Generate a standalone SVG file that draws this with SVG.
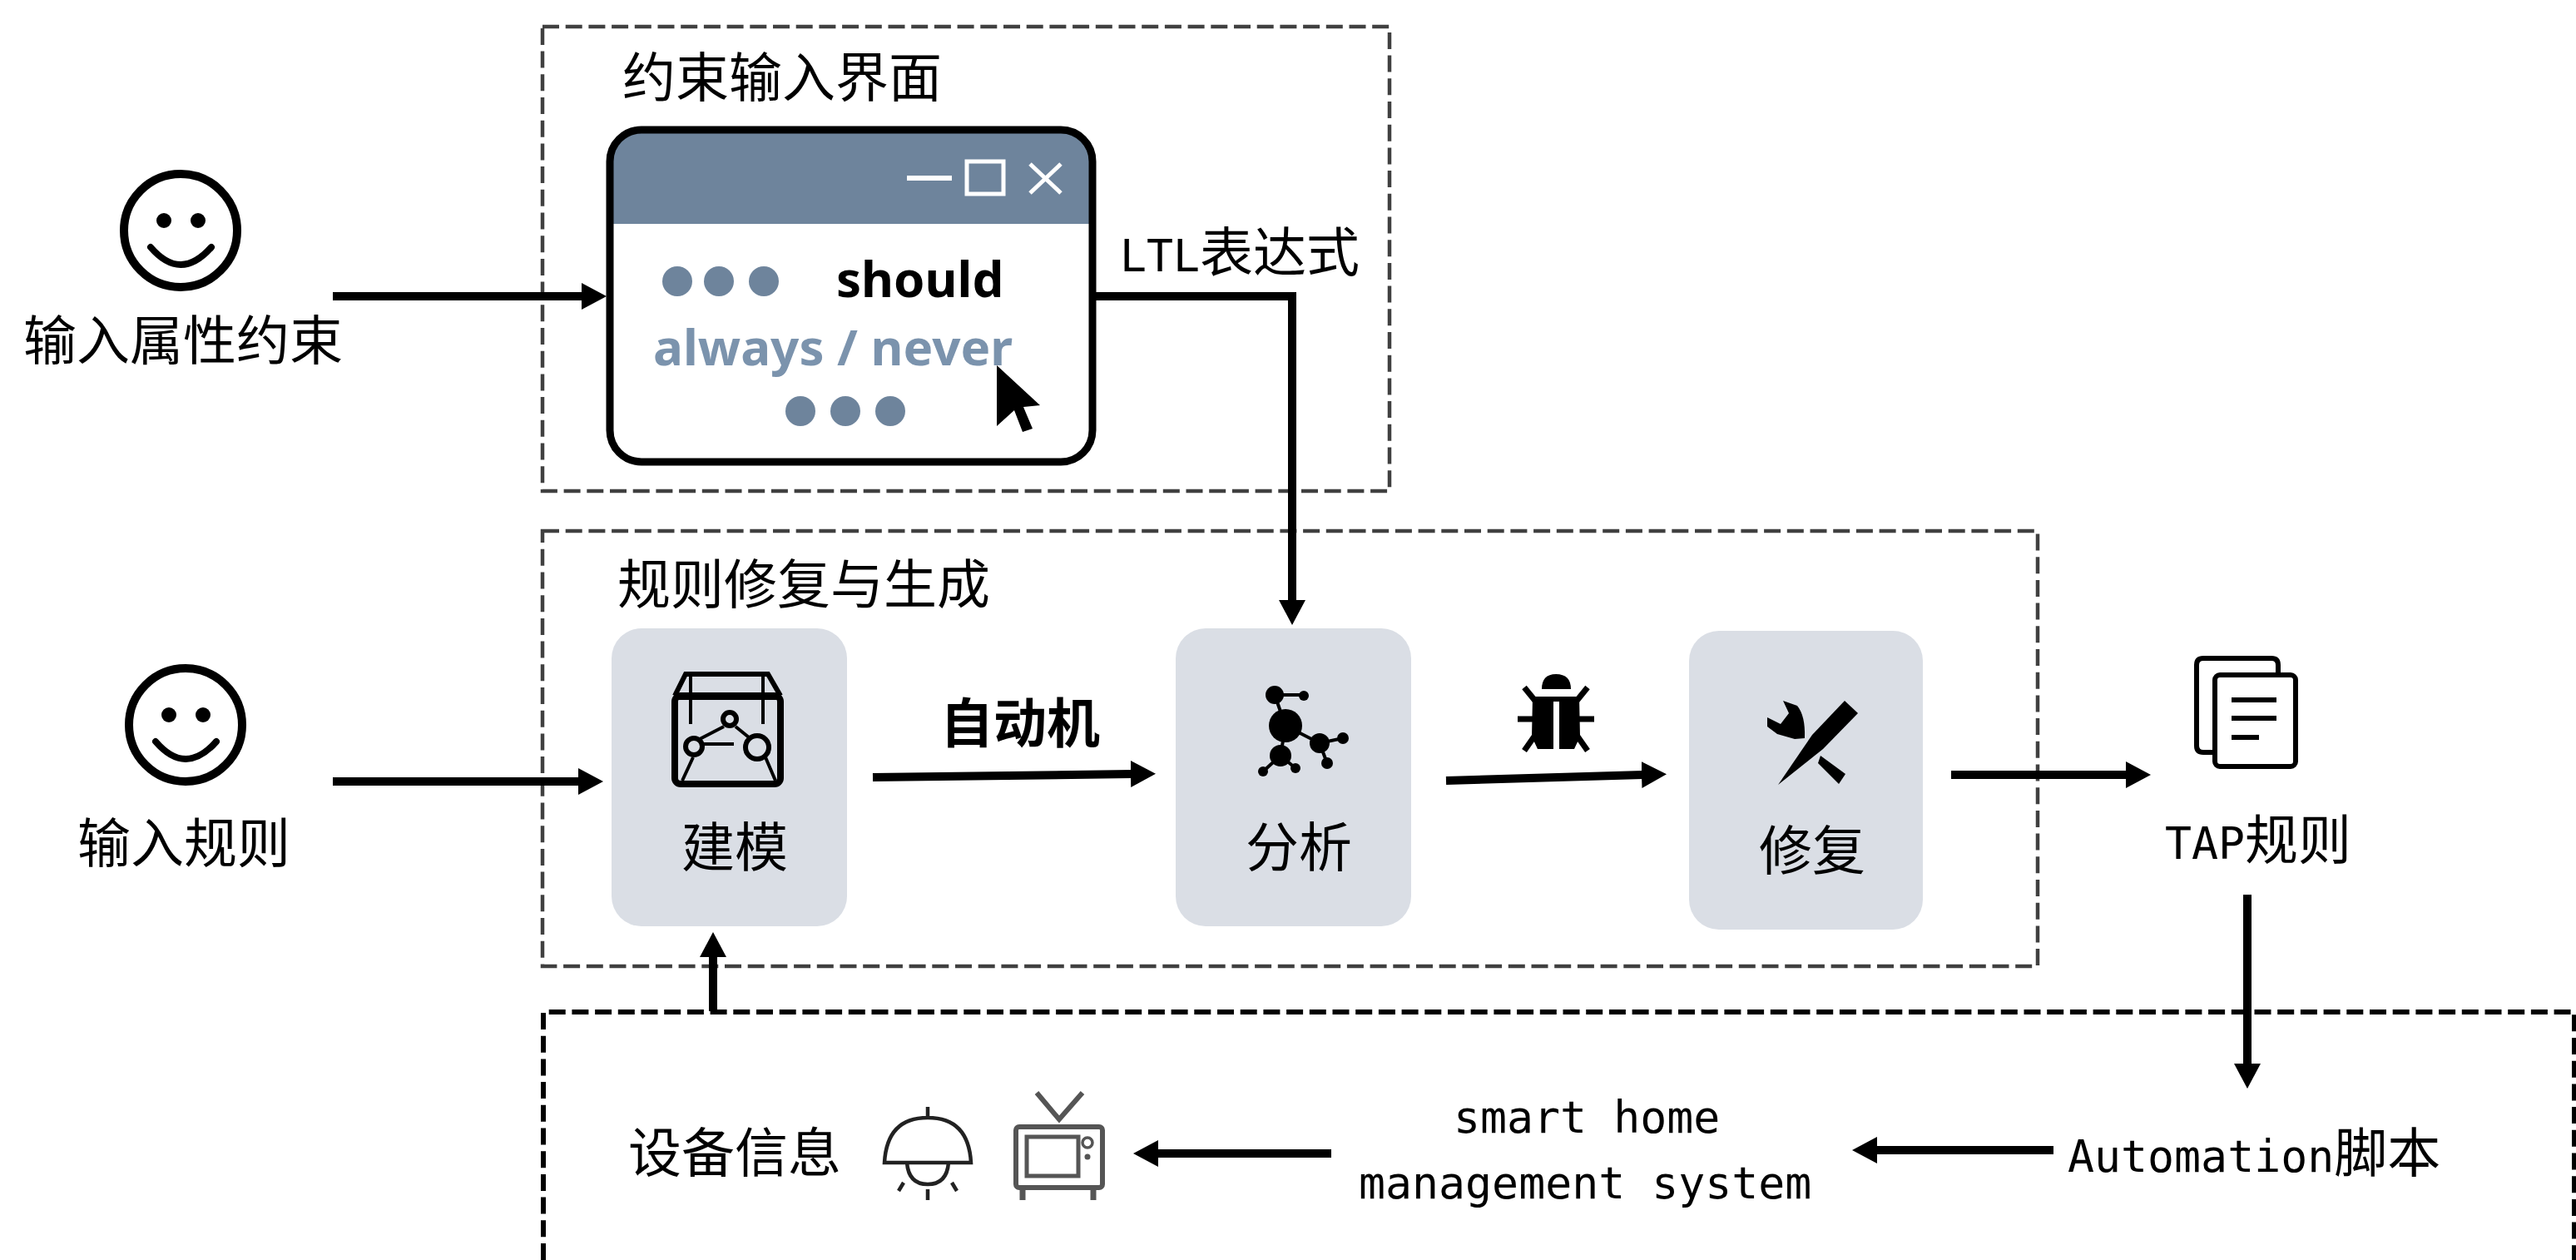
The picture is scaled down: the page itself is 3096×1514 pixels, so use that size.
<svg xmlns="http://www.w3.org/2000/svg" width="3096" height="1514" viewBox="0 0 3096 1514">
<style>
.t{font-family:"Noto Sans CJK SC","Liberation Sans",sans-serif;font-size:64px;fill:#000}
.m{font-family:"DejaVu Sans Mono","Liberation Mono","Noto Sans CJK SC",monospace;font-size:53.2px}
.b{font-weight:700}
.u{font-family:"Noto Sans","Open Sans",sans-serif;font-weight:700;font-size:60px}
.dash{fill:none;stroke:#404040;stroke-width:4.5;stroke-dasharray:20 7.7}
.node{fill:#dadee5}
.c{fill:none;stroke:#000;stroke-width:10}
.h{marker-end:url(#ah)}
.dot{fill:#6e849c}
.face{fill:none;stroke:#000;stroke-width:10;stroke-linecap:round}
.mouth{fill:none;stroke:#000;stroke-width:8;stroke-linecap:round}
.ic{fill:none;stroke:#000;stroke-width:6}
</style>
<defs>
<marker id="ah" markerUnits="userSpaceOnUse" markerWidth="34" markerHeight="36" refX="1" refY="16" orient="auto" viewBox="0 0 34 32"><path d="M0 0L30 16L0 32Z" fill="#000"/></marker>
</defs>
<rect width="3096" height="1514" fill="#fff"/>

<g id="box-constraint"><rect class="dash" x="652" y="32" width="1018" height="558"/><text class="t" x="748" y="116">约束输入界面</text></g>
<g id="box-repair"><rect class="dash" x="652" y="638" width="1797" height="523"/><text class="t" x="742" y="725">规则修复与生成</text></g>
<g id="box-home"><path d="M653 1514V1216H3094V1514" fill="none" stroke="#000" stroke-width="6" stroke-dasharray="20 7.7"/></g>

<g id="user-constraint">
<circle class="face" cx="217" cy="277" r="68"/><circle cx="197" cy="265" r="9"/><circle cx="238" cy="265" r="9"/>
<path class="mouth" d="M181 297Q217 339 254 297"/>
<text class="t" x="28" y="432">输入属性约束</text></g>
<g id="user-rule">
<circle class="face" cx="223" cy="871" r="68"/><circle cx="203" cy="859" r="9"/><circle cx="244" cy="859" r="9"/>
<path class="mouth" d="M187 891Q223 933 260 891"/>
<text class="t" x="93" y="1036">输入规则</text></g>

<g id="window">
<rect x="733" y="156" width="580" height="399" rx="38" fill="#fff"/>
<path d="M733 269V194Q733 156 771 156H1275Q1313 156 1313 194V269Z" fill="#6e849c"/>
<rect x="733" y="156" width="580" height="399" rx="38" fill="none" stroke="#000" stroke-width="9"/>
<path d="M1090 214H1144" stroke="#fff" stroke-width="6" fill="none"/>
<rect x="1162" y="194" width="44" height="39" fill="none" stroke="#fff" stroke-width="5"/>
<path d="M1238 197L1275 232M1275 197L1238 232" stroke="#fff" stroke-width="5" fill="none"/>
<circle class="dot" cx="814" cy="338" r="18"/><circle class="dot" cx="864" cy="338" r="18"/><circle class="dot" cx="918" cy="338" r="18"/>
<text class="u" x="1005" y="357" fill="#000">should</text>
<text class="u" x="785" y="439" fill="#7b93ad">always / never</text>
<circle class="dot" cx="962" cy="494" r="18"/><circle class="dot" cx="1016" cy="494" r="18"/><circle class="dot" cx="1070" cy="494" r="18"/>
<path d="M1198 439L1250 487L1230 489L1241 515L1229 519L1219 493L1198 512Z" fill="#000"/>
</g>
<text class="t" x="1346" y="326"><tspan class="m">LTL</tspan>表达式</text>

<g id="node-model">
<rect class="node" x="735" y="755" width="283" height="358" rx="36"/>
<path d="M811 836L824 810H923L938 836" fill="none" stroke="#000" stroke-width="6"/>
<rect x="811" y="836" width="127" height="106" rx="7" fill="none" stroke="#000" stroke-width="8"/>
<path d="M811 838H938" stroke="#000" stroke-width="6"/>
<path d="M830 813V870M917 813V870M833 910L820 938M920 910L932 938M841 888L870 873M884 873L900 886M846 894H882" stroke="#000" stroke-width="4" fill="none"/>
<circle class="ic" cx="834" cy="897" r="10"/><circle class="ic" cx="877" cy="864" r="8"/><circle class="ic" cx="910" cy="898" r="14"/>
<text class="t" x="819" y="1041">建模</text></g>

<g id="node-analysis">
<rect class="node" x="1413" y="755" width="283" height="358" rx="36"/>
<path d="M1532 835H1567M1532 835L1545 872L1539 908L1518 927M1539 908L1557 923M1545 872L1586 893L1614 887M1586 893L1595 917" stroke="#000" stroke-width="4" fill="none"/>
<circle cx="1545" cy="872" r="20"/><circle cx="1532" cy="835" r="11"/><circle cx="1567" cy="836" r="6"/><circle cx="1586" cy="893" r="12"/><circle cx="1614" cy="887" r="7"/><circle cx="1595" cy="917" r="7"/><circle cx="1539" cy="908" r="13"/><circle cx="1518" cy="927" r="6"/><circle cx="1557" cy="923" r="6"/>
<text class="t" x="1497" y="1041">分析</text></g>

<g id="node-repair">
<rect class="node" x="2030" y="758" width="281" height="359" rx="36"/>
<path d="M2137 943L2178 883L2217 842L2233 857L2191 900Z" fill="#000"/>
<path d="M2143 842L2160 848Q2170 860 2169 887L2157 888L2136 882L2124 873V862L2140 870L2150 857Z" fill="#000"/>
<path d="M2188 908L2218 930L2210 942L2185 917Z" fill="#000"/>
<text class="t" x="2114" y="1045">修复</text></g>

<g id="bug-icon">
<path d="M1853 828Q1853 810 1870 810Q1888 810 1888 828Z"/>
<path d="M1842 837H1898L1899 885L1892 900H1874V843H1867V900H1848L1841 885Z"/>
<path d="M1832 826L1845 842M1908 826L1895 842M1824 864H1842M1898 864H1916M1832 902L1846 882M1908 902L1894 882" stroke="#000" stroke-width="7" fill="none"/>
</g>

<text class="t b" x="1130" y="892" id="label-automaton">自动机</text>

<g id="docs-icon">
<path d="M2660 904H2648Q2640 904 2640 896V799Q2640 791 2648 791H2730Q2738 791 2738 799V810" class="ic"/>
<rect class="ic" x="2662" y="811" width="97" height="110" rx="6"/>
<path d="M2682 841H2736M2682 863H2736M2682 886H2715" class="ic"/>
<text class="t" x="2602" y="1032"><tspan class="m">TAP</tspan>规则</text></g>

<g id="automation-label"><text class="t" x="2485" y="1408"><tspan class="m">Automation</tspan>脚本</text></g>
<g id="smart-home"><text class="t m" x="1747" y="1361">smart home</text><text class="t m" x="1633" y="1440">management system</text></g>

<g id="devices">
<text class="t" x="755" y="1408">设备信息</text>
<path d="M1115 1330V1343M1063 1397H1167Q1164 1343 1115 1343Q1066 1343 1063 1397ZM1090 1397Q1092 1423 1115 1423Q1138 1423 1140 1397M1115 1429V1442M1086 1421L1080 1431M1144 1421L1150 1431" fill="none" stroke="#222" stroke-width="4.5"/>
<path d="M1246 1313L1273 1345L1301 1313" fill="none" stroke="#555" stroke-width="6"/>
<rect x="1221" y="1354" width="104" height="73" rx="4" fill="none" stroke="#555" stroke-width="6"/>
<rect x="1234" y="1366" width="62" height="47" fill="none" stroke="#555" stroke-width="5"/>
<circle cx="1307" cy="1373" r="6" fill="none" stroke="#555" stroke-width="3.5"/><circle cx="1307" cy="1390" r="3.5" fill="#555"/>
<path d="M1229 1427V1442M1314 1427V1442" stroke="#555" stroke-width="7"/>
</g>

<g id="connectors">
<path class="c h" d="M400 356H700"/>
<path class="c h" d="M1317 356H1553V722"/>
<path class="c h" d="M400 939H696"/>
<path class="c h" d="M1049 934L1360 930"/>
<path class="c h" d="M1738 938L1974 931"/>
<path class="c h" d="M2345 931H2556"/>
<path class="c h" d="M857 1215V1149"/>
<path class="c h" d="M2701 1075V1279"/>
<path class="c h" d="M1600 1386H1391"/>
<path class="c h" d="M2468 1382H2255"/>
</g>
</svg>
